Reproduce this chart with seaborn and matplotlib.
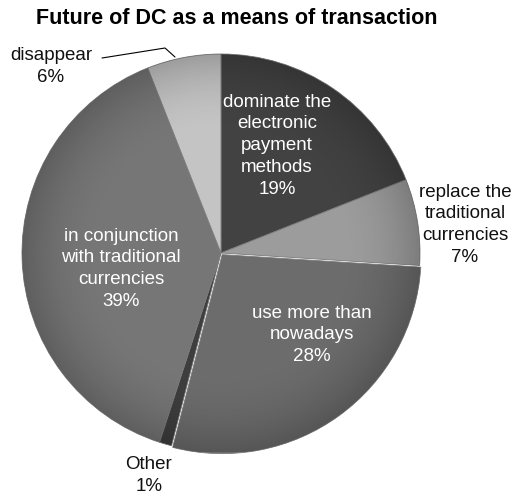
import numpy as np
import matplotlib
matplotlib.use("Agg")
import matplotlib.pyplot as plt
import seaborn as sns

# Survey answers, clockwise from 12 o'clock
categories = [
    "dominate the\nelectronic\npayment\nmethods",
    "replace the\ntraditional\ncurrencies",
    "use more than\nnowadays",
    "Other",
    "in conjunction\nwith traditional\ncurrencies",
    "disappear",
]
shares = [19, 7, 28, 1, 39, 6]
slice_colors = ["#424242", "#9c9c9c", "#6c6c6c", "#3e3e3e", "#767676", "#c4c4c4"]
label_colors = ["white", "#111111", "white", "#111111", "white", "#111111"]
explode = [0, 0, 0.01, 0, 0, 0]
label_xy = [(0.281, 0.538), (1.226, 0.141), (0.457, -0.412),
            (-0.362, -1.116), (-0.503, -0.080), (-0.854, 0.935)]

sns.set_theme(style="white")
plt.rcParams["font.family"] = ["Liberation Sans", "DejaVu Sans"]

fig = plt.figure(figsize=(5.29, 4.96), dpi=100)
ax = fig.add_axes([221 / 529 - 199 / 529, (496 - 253 - 199) / 496, 398 / 529, 398 / 496])

wedges, _ = ax.pie(
    shares, colors=slice_colors, startangle=90, counterclock=False,
    explode=explode, radius=1.0,
    wedgeprops=dict(edgecolor="#7a7a7a", linewidth=0.6),
)

# soft darkening toward the rim of each wedge
yy, xx = np.mgrid[-1.05:1.05:400j, -1.05:1.05:400j]
rr = np.hypot(xx, yy)
shade = np.clip((rr - 0.6) / 0.4, 0, 1) ** 2 * 0.2
rgba = np.zeros((400, 400, 4))
rgba[..., 3] = shade
for w in wedges:
    im = ax.imshow(rgba, extent=(-1.05, 1.05, -1.05, 1.05), origin="lower",
                   zorder=w.get_zorder() + 0.1, interpolation="bilinear")
    im.set_clip_path(w)

for (x, y), text, col, v in zip(label_xy, categories, label_colors, shares):
    ax.text(x, y, f"{text}\n{v}%", ha="center", va="center", color=col,
            fontsize=13.5, linespacing=1.38)

# leader line for the small top slice
ax.plot([(102 - 221) / 199, (165 - 221) / 199, (175 - 221) / 199],
        [(253 - 58) / 199, (253 - 48) / 199, (253 - 57) / 199],
        color="black", lw=0.8, clip_on=False)

ax.set_xlim(-1, 1)
ax.set_ylim(-1, 1)
ax.set_aspect("equal")
ax.axis("off")

fig.text(237 / 529, 1 - 19 / 496, "Future of DC as a means of transaction",
         ha="center", va="center", fontsize=15.5, fontweight="bold", color="black")

fig.savefig("out.png", dpi=100)
